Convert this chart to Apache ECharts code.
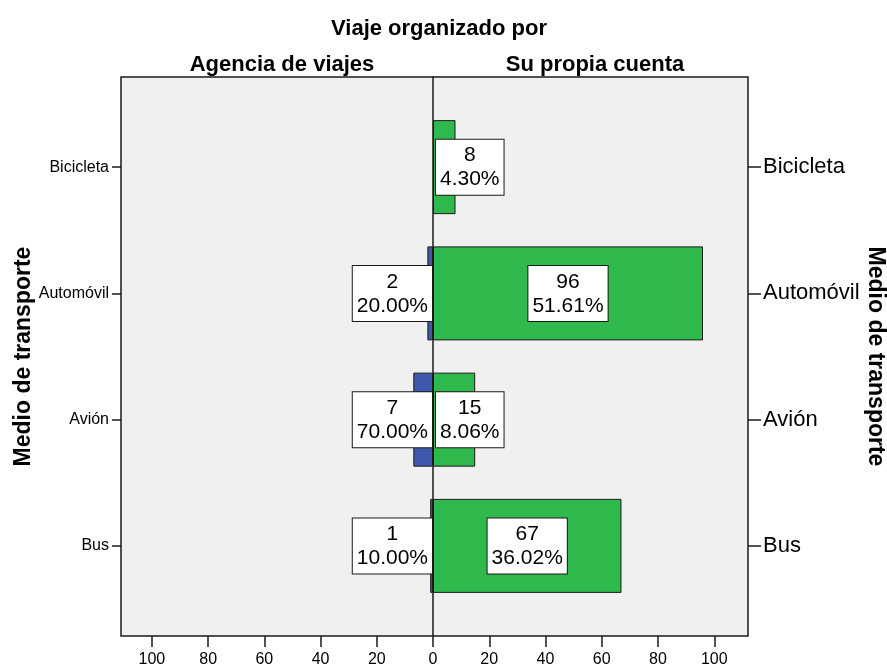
<!DOCTYPE html>
<html><head><meta charset="utf-8">
<script src="https://cdn.jsdelivr.net/npm/echarts@6/dist/echarts.min.js"></script>
<style>html,body{margin:0;padding:0;background:#fff}#c{width:887px;height:665px}</style>
</head><body><div id="c"></div>
<script>
const categories = ['Bus', 'Avión', 'Automóvil', 'Bicicleta'];
const agenciaCounts = [1, 7, 2, null];
const agenciaPercents = ['10.00%', '70.00%', '20.00%', ''];
const propiaCounts = [67, 15, 96, 8];
const propiaPercents = ['36.02%', '8.06%', '51.61%', '4.30%'];
const leftTickValues = [0, 20, 40, 60, 80, 100];
const leftTickLabels = [20, 40, 60, 80, 100];
const rightTickValues = [0, 20, 40, 60, 80, 100];
const panelTitles = ['Agencia de viajes', 'Su propia cuenta'];
const mainTitle = 'Viaje organizado por';
const axisName = 'Medio de transporte';

const FONT = '"Liberation Sans", Arial, sans-serif';
const INK = '#1a1a1a';

const boxLabel = (pcts) => ({
  show: true,
  formatter: p => '{c|' + p.value + '}\n{c|' + pcts[p.dataIndex] + '}',
  backgroundColor: '#ffffff',
  borderColor: INK,
  borderWidth: 1,
  padding: [4, 4, 3, 4],
  color: '#000',
  fontFamily: FONT,
  fontSize: 21,
  lineHeight: 24,
  rich: { c: { align: 'center', fontSize: 21, lineHeight: 24, color: '#000', fontFamily: FONT } }
});

const chart = echarts.init(document.getElementById('c'), null, { renderer: 'canvas' });
chart.setOption({
  animation: false,
  backgroundColor: '#ffffff',
  title: [
    { text: mainTitle, left: 434, top: 13, textAlign: 'center', textStyle: { fontFamily: FONT, fontSize: 22, fontWeight: 'bold', color: '#000' } },
    { text: panelTitles[0], left: 277, top: 49, textAlign: 'center', textStyle: { fontFamily: FONT, fontSize: 22, fontWeight: 'bold', color: '#000' } },
    { text: panelTitles[1], left: 590, top: 49, textAlign: 'center', textStyle: { fontFamily: FONT, fontSize: 22, fontWeight: 'bold', color: '#000' } }
  ],
  grid: [
    { left: 121, top: 77, width: 627, height: 559, show: true, backgroundColor: '#f0f0f0', borderColor: INK, borderWidth: 1.5, containLabel: false, outerBoundsMode: 'none' },
    { left: 121, top: 104, width: 312, height: 505, containLabel: false, outerBoundsMode: 'none' },
    { left: 433, top: 104, width: 315, height: 505, containLabel: false, outerBoundsMode: 'none' }
  ],
  xAxis: [
    { gridIndex: 0, type: 'value', min: -111, max: 112, show: false },
    { gridIndex: 1, type: 'value', inverse: true, min: 0, max: 111, position: 'bottom', offset: 27,
      axisLine: { show: false }, splitLine: { show: false },
      axisTick: { show: true, length: 11, lineStyle: { color: INK, width: 1.5 }, customValues: leftTickValues },
      axisLabel: { fontFamily: FONT, fontSize: 16, color: '#000', margin: 16, customValues: leftTickLabels } },
    { gridIndex: 2, type: 'value', min: 0, max: 112, position: 'bottom', offset: 27,
      axisLine: { show: false }, splitLine: { show: false },
      axisTick: { show: true, length: 11, lineStyle: { color: INK, width: 1.5 }, customValues: rightTickValues },
      axisLabel: { fontFamily: FONT, fontSize: 16, color: '#000', margin: 16, customValues: rightTickValues } }
  ],
  yAxis: [
    { gridIndex: 0, type: 'value', min: 0, max: 1,
      axisLine: { show: true, onZero: true, lineStyle: { color: INK, width: 1.5 } },
      axisTick: { show: false }, axisLabel: { show: false }, splitLine: { show: false } },
    { gridIndex: 1, type: 'category', data: categories, position: 'left',
      axisLine: { show: false, onZero: false },
      axisTick: { show: true, alignWithLabel: true, length: 9, lineStyle: { color: INK, width: 1.5 } },
      axisLabel: { fontFamily: FONT, fontSize: 16, color: '#000', margin: 12 },
      name: axisName, nameLocation: 'middle', nameGap: 86,
      nameTextStyle: { fontFamily: FONT, fontSize: 23, fontWeight: 'bold', color: '#000' } },
    { gridIndex: 2, type: 'category', data: categories, position: 'right',
      axisLine: { show: false, onZero: false },
      axisTick: { show: true, alignWithLabel: true, length: 13, lineStyle: { color: INK, width: 1.5 } },
      axisLabel: { fontFamily: FONT, fontSize: 22, color: '#000', margin: 15 },
      name: axisName, nameLocation: 'middle', nameGap: 112, nameRotate: -90,
      nameTextStyle: { fontFamily: FONT, fontSize: 23, fontWeight: 'bold', color: '#000' } }
  ],
  series: [
    { type: 'bar', name: panelTitles[0], xAxisIndex: 1, yAxisIndex: 1, barWidth: 94,
      data: agenciaCounts,
      itemStyle: { color: '#3f5aad', borderColor: INK, borderWidth: 1 },
      label: Object.assign(boxLabel(agenciaPercents), { position: 'insideRight', distance: 1 }) },
    { type: 'bar', name: panelTitles[1], xAxisIndex: 2, yAxisIndex: 2, barWidth: 94,
      data: propiaCounts.map(v => ({ value: v, label: { position: v >= 30 ? 'inside' : 'insideLeft' } })),
      itemStyle: { color: '#2fb84b', borderColor: INK, borderWidth: 1 },
      label: Object.assign(boxLabel(propiaPercents), { distance: 3 }) }
  ]
});
</script></body></html>
